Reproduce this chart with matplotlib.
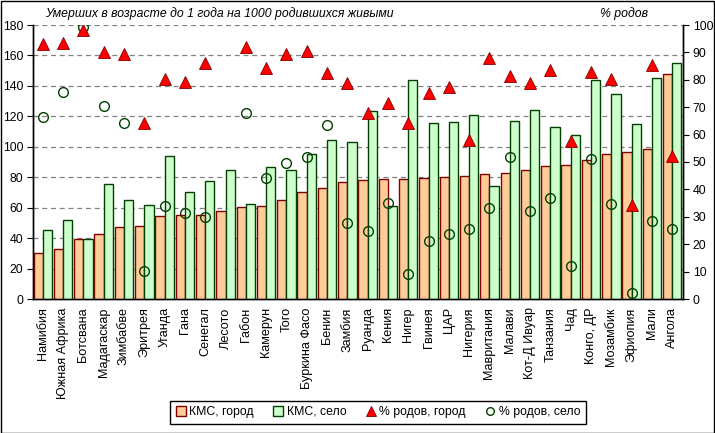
import matplotlib
matplotlib.use("Agg")
import matplotlib.pyplot as plt
import numpy as np
from matplotlib.patches import Rectangle
from matplotlib.lines import Line2D

plt.rcParams['font.family'] = ['Liberation Sans', 'DejaVu Sans']

countries = ["Намибия", "Южная Африка", "Ботсвана", "Мадагаскар", "Зимбабве", "Эритрея",
             "Уганда", "Гана", "Сенегал", "Лесото", "Габон", "Камерун", "Того",
             "Буркина Фасо", "Бенин", "Замбия", "Руанда", "Кения", "Нигер", "Гвинея",
             "ЦАР", "Нигерия", "Мавритания", "Малави", "Кот-Д Ивуар", "Танзания", "Чад",
             "Конго, ДР", "Мозамбик", "Эфиопия", "Мали", "Ангола"]

kms_city = [30, 33, 39.4, 42.7, 47.1, 47.8, 54.5, 55, 55, 57.8, 60.4, 61, 65, 70.3, 72.9, 76.9,
            78.2, 78.6, 78.8, 79.3, 80, 80.6, 81.9, 82.6, 84.5, 87.4, 88, 91.1, 95, 96.4, 98.3, 147.8]
kms_village = [45.3, 51.9, 39.4, 75.6, 65, 61.5, 94, 70.3, 77.5, 84.8, 62.4, 86.7, 84.8, 95.3, 104.5, 103.2,
               123.5, 61.1, 143.9, 115.4, 116.1, 120.7, 74.2, 116.7, 124.2, 112.8, 107.5, 143.9, 134.5, 114.8, 145, 154.9]
births_city = [92.9, 93.3, 98.2, 90.3, 89.3, 64.3, 80.3, 79.3, 86.0, np.nan, 91.9, 84.2, 89.3, 90.6, 82.6, 78.7,
               68.0, 71.6, 64.3, 75.3, 77.5, 58.0, 88.1, 81.4, 78.9, 83.6, 57.7, 83.0, 80.4, 34.3, 85.4, 52.3]
births_village = [66.5, 75.7, 99.1, 70.4, 64.3, 10.3, 34.1, 31.3, 30.0, np.nan, 67.8, 44.3, 49.7, 51.7, 63.5, 27.8,
                  24.9, 34.9, 9.1, 21.3, 23.7, 25.5, 33.3, 51.9, 32.2, 37.0, 12.0, 51.1, 34.5, 2.3, 28.6, 25.5]

title_left = "Умерших в возрасте до 1 года на 1000 родившихся живыми"
title_right = "% родов"
legend_labels = ["КМС, город", "КМС, село", "% родов, город", "% родов, село"]

FS = 8.8
W, H = 715, 433
fig = plt.figure(figsize=(W / 100, H / 100), dpi=100)
ax = fig.add_axes([33 / W, 1 - 299 / H, 650 / W, 274 / H])
ax2 = ax.twinx()

x = np.arange(len(countries))
w = 0.455
c_city = "#FFCC99"
c_vil = "#CCFFCC"
e_city = "#800000"
e_vil = "#004000"

ax.bar(x - w / 2, kms_city, width=w, color=c_city, edgecolor=e_city, linewidth=1.0, zorder=3)
ax.bar(x + w / 2, kms_village, width=w, color=c_vil, edgecolor=e_vil, linewidth=1.0, zorder=3)

ax.set_ylim(0, 180)
ax.set_yticks(range(0, 181, 20))
ax.set_xlim(-0.48, len(countries) - 0.47)
ax.yaxis.grid(True, linestyle=(0, (4, 3)), color="#808080", linewidth=0.9)
ax.set_axisbelow(True)
ax.set_xticks(x)
ax.set_xticklabels(countries, rotation=90, fontsize=9.1, va="top", ha="center")
ax.tick_params(axis="x", length=0, pad=6)
ax.tick_params(axis="y", direction="out", length=4, labelsize=FS, pad=3)

ax2.set_ylim(0, 100)
ax2.set_yticks(range(0, 101, 10))
ax2.tick_params(axis="y", direction="out", length=4, labelsize=FS, pad=3)
ax2.plot(x, births_village, linestyle="none", marker="o", markersize=7, markerfacecolor="none",
         markeredgecolor="#004000", markeredgewidth=1.0, zorder=5)
ax2.plot(x, births_city, linestyle="none", marker="^", markersize=8.5, markerfacecolor="#FF0000",
         markeredgecolor="#800000", markeredgewidth=0.6, zorder=6)

for a in (ax, ax2):
    a.spines["top"].set_visible(False)
    for s in ("left", "right", "bottom"):
        a.spines[s].set_linewidth(1.0)
        a.spines[s].set_color("black")

fig.text(45 / W, 1 - 14 / H, title_left, style="italic", fontsize=FS, ha="left", va="center")
fig.text(600 / W, 1 - 14 / H, title_right, style="italic", fontsize=FS, ha="left", va="center")

handles = [
    Line2D([], [], linestyle="none", marker="s", markersize=6.5, markerfacecolor=c_city, markeredgecolor=e_city),
    Line2D([], [], linestyle="none", marker="s", markersize=6.5, markerfacecolor=c_vil, markeredgecolor=e_vil),
    Line2D([], [], linestyle="none", marker="^", markersize=7, markerfacecolor="#FF0000", markeredgecolor="#800000", markeredgewidth=0.6),
    Line2D([], [], linestyle="none", marker="o", markersize=5.5, markerfacecolor="none", markeredgecolor="#004000"),
]
leg = fig.legend(handles, legend_labels, loc="center", bbox_to_anchor=(378 / W, 1 - 412 / H), ncol=4,
                 fontsize=FS, frameon=True, fancybox=False, edgecolor="black", framealpha=1,
                 handlelength=0.8, handletextpad=0.3, columnspacing=1.6, borderpad=0.45)
leg.get_frame().set_linewidth(1.0)

fig.patches.append(Rectangle((0.5 / W, 0.5 / H), 1 - 1.5 / W, 1 - 1.5 / H, transform=fig.transFigure,
                             fill=False, edgecolor="black", linewidth=1.0))

fig.savefig("out.png", dpi=100)
